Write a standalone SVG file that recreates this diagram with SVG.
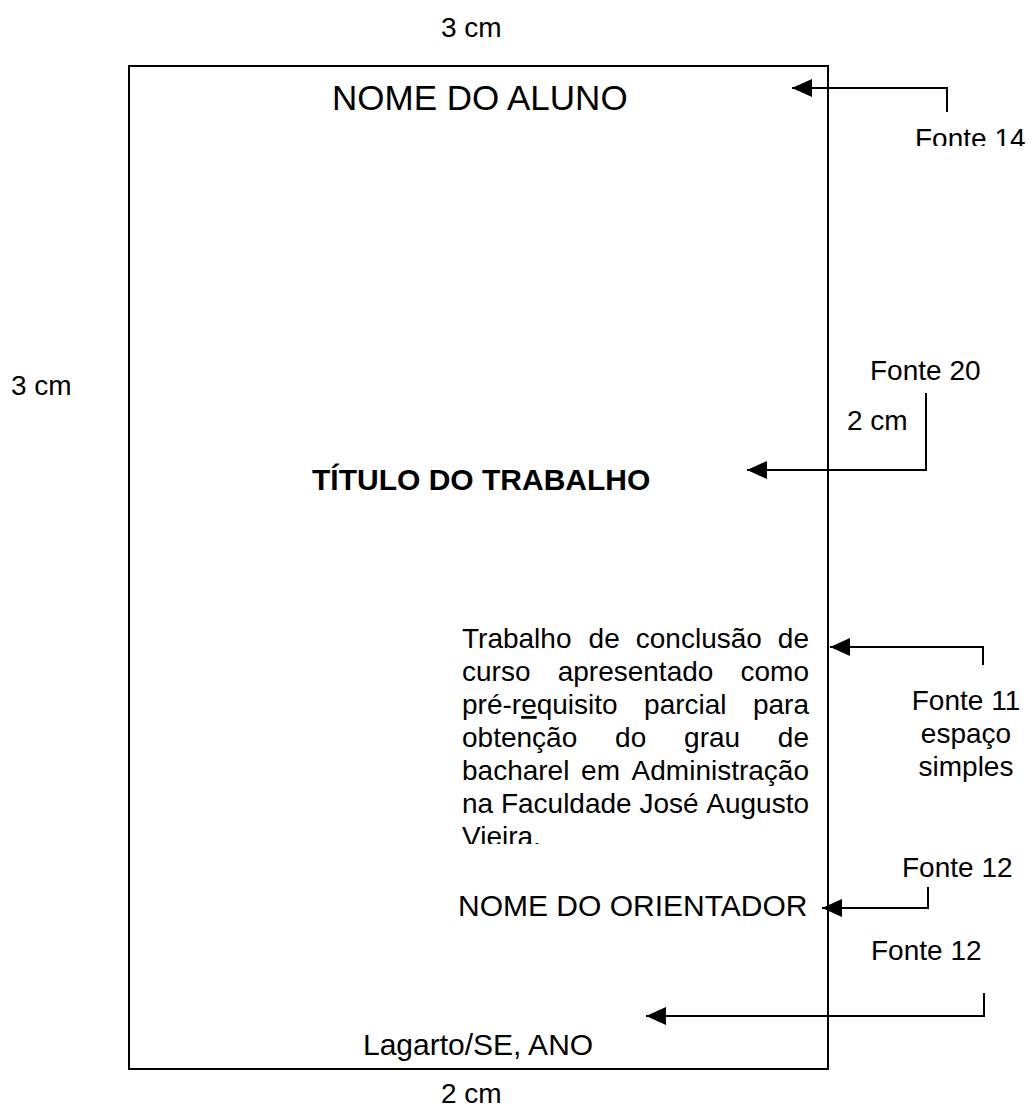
<svg xmlns="http://www.w3.org/2000/svg" width="1034" height="1109" viewBox="0 0 1034 1109">
<style>
text{font-family:"Liberation Sans",Arial,sans-serif;fill:#000}
.lbl{font-size:28px}
.body{font-size:28px}
.conn{fill:none;stroke:#000;stroke-width:2}
</style>
<defs>
<marker id="ah" markerWidth="20" markerHeight="18" refX="20" refY="9" orient="auto" markerUnits="userSpaceOnUse">
<path d="M0,0 L20,9 L0,18 Z" fill="#000"/>
</marker>
<clipPath id="clip14"><rect x="880" y="100" width="154" height="46"/></clipPath>
<clipPath id="clipPar"><rect x="440" y="600" width="380" height="244"/></clipPath>
</defs>
<rect width="1034" height="1109" fill="#fff"/>
<g id="page">
<rect x="129" y="66" width="699" height="1003" fill="none" stroke="#000" stroke-width="2"/>
</g>
<g id="margins">
<text class="lbl" x="441" y="37">3 cm</text>
<text class="lbl" x="11" y="395">3 cm</text>
<text class="lbl" x="847" y="430">2 cm</text>
<text class="lbl" x="441" y="1103">2 cm</text>
</g>
<g id="nome-aluno"><text x="332" y="110" font-size="35">NOME DO ALUNO</text></g>
<g id="titulo"><text x="312" y="490" font-size="30" font-weight="bold">TÍTULO DO TRABALHO</text></g>
<g id="paragrafo" clip-path="url(#clipPar)">
<text class="body" y="648"><tspan x="462">Trabalho</tspan><tspan x="588.6">de</tspan><tspan x="635.8">conclusão</tspan><tspan x="809" text-anchor="end">de</tspan></text>
<text class="body" y="681"><tspan x="462">curso</tspan><tspan x="557.7">apresentado</tspan><tspan x="809" text-anchor="end">como</tspan></text>
<text class="body" y="714"><tspan x="462">pré-r</tspan><tspan text-decoration="underline">e</tspan><tspan>quisito</tspan><tspan x="644.1">parcial</tspan><tspan x="809" text-anchor="end">para</tspan></text>
<text class="body" y="747"><tspan x="462">obtenção</tspan><tspan x="615.1">do</tspan><tspan x="684.1">grau</tspan><tspan x="809" text-anchor="end">de</tspan></text>
<text class="body" y="780"><tspan x="462">bacharel</tspan><tspan x="581.1">em</tspan><tspan x="809" text-anchor="end">Administração</tspan></text>
<text class="body" y="813"><tspan x="462">na</tspan><tspan x="500.9">Faculdade</tspan><tspan x="639.4">José</tspan><tspan x="809" text-anchor="end">Augusto</tspan></text>
<text class="body" x="462" y="846">Vieira.</text>
</g>
<g id="orientador"><text x="458" y="916" font-size="30">NOME DO ORIENTADOR</text></g>
<g id="local"><text x="363" y="1055" font-size="30">Lagarto/SE, ANO</text></g>
<g id="notas">
<text class="lbl" x="915" y="148" clip-path="url(#clip14)">Fonte 14</text>
<text class="lbl" x="870" y="380">Fonte 20</text>
<text class="lbl" x="966" y="710" text-anchor="middle">Fonte 11</text>
<text class="lbl" x="966" y="743" text-anchor="middle">espaço</text>
<text class="lbl" x="966" y="776" text-anchor="middle">simples</text>
<text class="lbl" x="902" y="877">Fonte 12</text>
<text class="lbl" x="871" y="960">Fonte 12</text>
</g>
<g id="connectors">
<path class="conn" d="M947,112 V88 H792" marker-end="url(#ah)"/>
<path class="conn" d="M926,393 V470 H747" marker-end="url(#ah)"/>
<path class="conn" d="M983,665 V647 H830" marker-end="url(#ah)"/>
<path class="conn" d="M928,887 V908 H822" marker-end="url(#ah)"/>
<path class="conn" d="M984,993 V1016 H646" marker-end="url(#ah)"/>
</g>
</svg>
